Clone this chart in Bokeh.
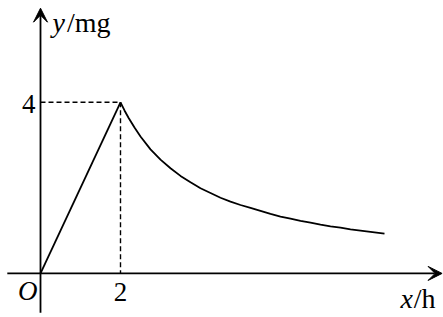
from bokeh.plotting import figure
from bokeh.models import Range1d, Arrow, VeeHead
from bokeh.core.properties import value
from bokeh.embed import file_html
from bokeh.resources import INLINE

# data
rise_x = [0, 2]
rise_y = [0, 4]
decay_x = [2, 2.1, 2.2, 2.35, 2.5, 2.75, 3, 3.25, 3.5, 3.75, 4, 4.25, 4.5, 4.75, 5, 5.25, 5.5,
           5.75, 6, 6.25, 6.5, 6.75, 7, 7.25, 7.5, 7.75, 8, 8.25, 8.6]
decay_y = [4, 3.81, 3.64, 3.41, 3.2, 2.9, 2.66, 2.46, 2.28, 2.13, 1.99, 1.88, 1.77, 1.68, 1.6,
           1.53, 1.46, 1.39, 1.33, 1.28, 1.23, 1.19, 1.14, 1.1, 1.07, 1.03, 1.0, 0.97, 0.93]
peak_x = 2
peak_y = 4
x_tick_labels = ["2"]
y_tick_labels = ["4"]

FONT = "Liberation Serif"
FS = "27px"
LFS = "28px"

p = figure(width=443, height=317, output_backend="svg", toolbar_location=None,
           x_range=Range1d(-1.0, 10.075), y_range=Range1d(-1.03, 6.38),
           x_axis_location=None, y_axis_location=None, min_border=0,
           background_fill_color="white", border_fill_color="white")
p.outline_line_color = None
p.xgrid.visible = False
p.ygrid.visible = False

# axes
p.add_layout(Arrow(end=VeeHead(size=14, fill_color="black", line_color="black", line_width=1),
                   x_start=-0.83, y_start=0, x_end=10.04, y_end=0,
                   line_color="black", line_width=1.8))
p.add_layout(Arrow(end=VeeHead(size=14, fill_color="black", line_color="black", line_width=1),
                   x_start=0, y_start=-0.92, x_end=0, y_end=6.2,
                   line_color="black", line_width=1.8))

# dashed guides
p.line([0, peak_x], [peak_y, peak_y], line_color="black", line_width=1.4, line_dash="5 3")
p.line([peak_x, peak_x], [peak_y, 0], line_color="black", line_width=1.4, line_dash="5 3")

# curve
p.line(rise_x, rise_y, line_color="black", line_width=1.8)
p.line(decay_x, decay_y, line_color="black", line_width=1.8, line_join="round")

# tick labels
p.text(x=[peak_x], y=[0], text=x_tick_labels, text_font=value(FONT), text_font_size=FS,
       text_align="center", text_baseline="middle", y_offset=19, text_color="black")
p.text(x=[0], y=[peak_y], text=y_tick_labels, text_font=value(FONT), text_font_size=FS,
       text_align="right", text_baseline="middle", x_offset=-5, y_offset=2, text_color="black")
p.text(x=[0], y=[0], text=["O"], text_font=value(FONT), text_font_size=FS, text_font_style="italic",
       text_align="right", text_baseline="middle", x_offset=-3, y_offset=18, text_color="black")

# axis labels
p.text(x=[0.3], y=[6.0], text=["y"], text_font=value(FONT), text_font_size=LFS,
       text_font_style="italic", text_align="left", text_baseline="middle", y_offset=6, text_color="black")
p.text(x=[0.66], y=[6.0], text=["/mg"], text_font=value(FONT), text_font_size=LFS,
       text_align="left", text_baseline="middle", y_offset=6, text_color="black")
p.text(x=[9.0], y=[0], text=["x"], text_font=value(FONT), text_font_size=LFS,
       text_font_style="italic", text_align="left", text_baseline="middle", y_offset=25, text_color="black")
p.text(x=[9.33], y=[0], text=["/h"], text_font=value(FONT), text_font_size=LFS,
       text_align="left", text_baseline="middle", y_offset=25, text_color="black")

open("out.html", "w").write(file_html(p, INLINE))
